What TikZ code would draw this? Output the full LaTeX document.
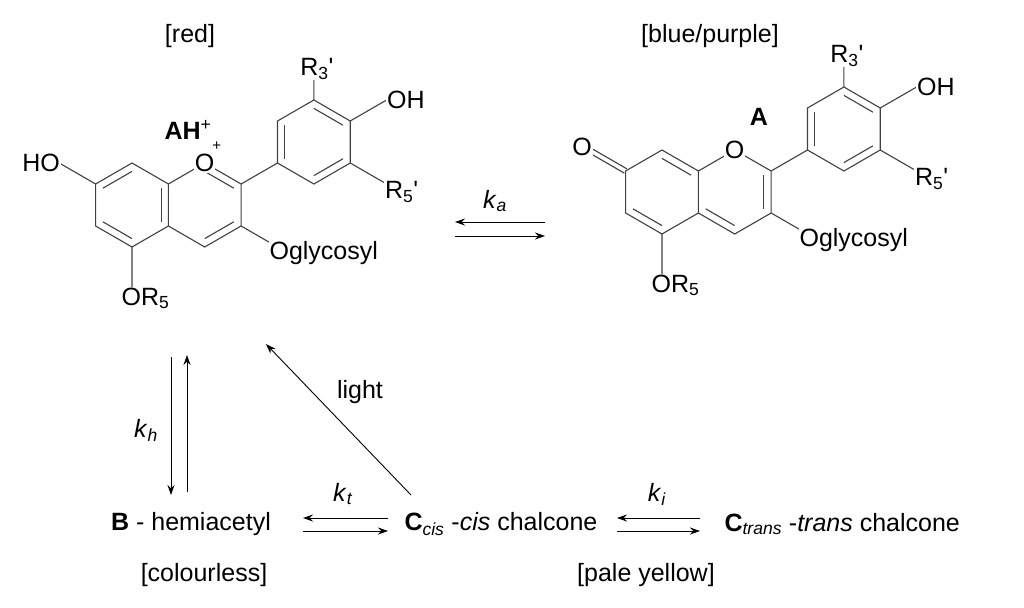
\documentclass[tikz,border=0pt]{standalone}
\usepackage{fontspec}
\setmainfont{Liberation Sans}
\usetikzlibrary{calc,arrows.meta}
\begin{document}
\begin{tikzpicture}[x=1pt,y=-1pt,line width=1.1pt,
  bond/.style={draw=black!75},
  lab/.style={inner sep=1pt,font=\fontsize{25}{29}\selectfont},
  lbl/.style={fill=white,inner sep=1pt,font=\fontsize{25}{29}\selectfont},
  arr/.style={line width=0.9pt,-{Stealth[length=10pt,width=7pt]}}]
\useasboundingbox (0,0) rectangle (1024,607);
\newcommand{\dbin}[3]{\draw[bond] ($(#1)!0.2!(#3)$) -- ($(#2)!0.2!(#3)$);}
\newcommand{\skel}[2]{%
 \begin{scope}[shift={(#1,#2)}]
 \coordinate (Lc) at (0,0); \coordinate (Rc) at (72.7,0); \coordinate (Pc) at (181.9,-63);
 \coordinate (Lt) at (0,-42); \coordinate (Lur) at (36.4,-21); \coordinate (Llr) at (36.4,21);
 \coordinate (Lb) at (0,42); \coordinate (Lll) at (-36.4,21); \coordinate (Lul) at (-36.4,-21);
 \coordinate (O1) at (72.7,-42); \coordinate (C2) at (109.1,-21); \coordinate (C3) at (109.1,21);
 \coordinate (C4) at (72.7,42);
 \coordinate (Pt) at (181.9,-105); \coordinate (Pur) at (218.2,-84); \coordinate (Plr) at (218.2,-42);
 \coordinate (Pb) at (181.9,-21); \coordinate (Pll) at (145.5,-42); \coordinate (Pul) at (145.5,-84);
 \coordinate (sR3) at (181.9,-126); \coordinate (sOH) at (254.6,-105); \coordinate (sR5) at (254.6,-21);
 \coordinate (sOg) at (142,40); \coordinate (sOR) at (0,86); \coordinate (sHO) at (-72.7,-42);
 \draw[bond] (Lt)--(Lur)--(Llr)--(Lb)--(Lll)--(Lul)--cycle;
 \draw[bond] (Lur)--(O1)--(C2)--(C3)--(C4)--(Llr);
 \draw[bond] (Pt)--(Pur)--(Plr)--(Pb)--(Pll)--(Pul)--cycle;
 \draw[bond] (C2)--(Pll) (Pt)--(sR3) (Pur)--(sOH) (Plr)--(sR5) (C3)--(sOg) (Lb)--(sOR);
 \dbin{Pul}{Pll}{Pc}\dbin{Pt}{Pur}{Pc}\dbin{Plr}{Pb}{Pc}
 \node[lbl,anchor=south] (nR3) at ($(sR3)+(3,2)$) {R\textsubscript{3}\textquotesingle};
 \node[lbl,anchor=west] (nOH) at ($(sOH)+(-1,0)$) {OH};
 \node[lbl,anchor=north west] (nR5) at ($(sR5)+(-3,-4)$) {R\textsubscript{5}\textquotesingle};
 \node[lbl,anchor=west] (nOg) at ($(sOg)+(-6,8)$) {Oglycosyl};
 \node[lbl,anchor=north west] (nOR) at ($(sOR)+(-12,-5)$) {OR\textsubscript{5}};
 \end{scope}}
% ---- AH+ ----
\skel{132}{205}
\draw[bond] (Lul)--(sHO);
\dbin{Lt}{Lul}{Lc}\dbin{Lll}{Lb}{Lc}\dbin{Lur}{Llr}{Lc}\dbin{O1}{C2}{Rc}\dbin{C3}{C4}{Rc}
\node[lbl,anchor=east] (nHO) at ($(sHO)+(2,0)$) {HO};
\node[lbl] (nO1) at (O1) {O};
\node[lab,font=\fontsize{15}{17}\selectfont] (plus1) at ($(O1)+(12,-17)$) {+};
\node[lab] (AH) at (188,130) {\textbf{AH}\textsuperscript{+}};
\node[lab] (red) at (190,36) {[red]};
% ---- A ----
\skel{662}{192}
\draw[bond] ($(Lul)!2.5pt!90:(sHO)$)--($(sHO)!2.5pt!-90:(Lul)$);
\draw[bond] ($(Lul)!2.5pt!-90:(sHO)$)--($(sHO)!2.5pt!90:(Lul)$);
\dbin{Lt}{Lur}{Lc}\dbin{Lll}{Lb}{Lc}\dbin{C2}{C3}{Rc}\dbin{C4}{Llr}{Rc}
\node[lbl,anchor=east] (nO7) at ($(sHO)+(4,-3)$) {O};
\node[lbl] (nO2) at (O1) {O};
\node[lab] (A) at (759,117) {\textbf{A}};
\node[lab] (blue) at (710,36) {[blue/purple]};
% ---- arrows ----
\coordinate (ka1) at (455,222); \coordinate (ka2) at (545,222);
\coordinate (ka3) at (455,236); \coordinate (ka4) at (545,236);
\draw[arr] (ka2)--(ka1); \draw[arr] (ka3)--(ka4);
\node[lab] (ka) at (495,201) {\textit{k}\textsubscript{\textit{a}}};
\coordinate (kh1) at (171,357); \coordinate (kh2) at (171,495);
\coordinate (kh3) at (187,492); \coordinate (kh4) at (187,355);
\draw[arr] (kh1)--(kh2); \draw[arr] (kh3)--(kh4);
\node[lab] (kh) at (146,430) {\textit{k}\textsubscript{\textit{h}}};
\node[lab] (B) at (191,524) {\textbf{B} - hemiacetyl};
\node[lab] (col) at (204,575) {[colourless]};
\node[lab,anchor=west] (Cc) at (403,524) {\textbf{C}\textsubscript{\textit{cis}} -\textit{cis} chalcone};
\node[lab,anchor=west] (Ct) at (723,524) {\textbf{C}\textsubscript{\textit{trans}} -\textit{trans} chalcone};
\node[lab] (pale) at (646,575) {[pale yellow]};
\coordinate (kt1) at (303,518); \coordinate (kt2) at (388,518);
\coordinate (kt3) at (303,531); \coordinate (kt4) at (388,531);
\draw[arr] (kt2)--(kt1); \draw[arr] (kt3)--(kt4);
\node[lab] (kt) at (343,494) {\textit{k}\textsubscript{\textit{t}}};
\coordinate (ki1) at (617,518); \coordinate (ki2) at (700,518);
\coordinate (ki3) at (617,531); \coordinate (ki4) at (700,531);
\draw[arr] (ki2)--(ki1); \draw[arr] (ki3)--(ki4);
\node[lab] (ki) at (657,494) {\textit{k}\textsubscript{\textit{i}}};
\coordinate (li1) at (411,495); \coordinate (li2) at (266,344);
\draw[arr] (li1)--(li2);
\node[lab] (light) at (360,392) {light};
\end{tikzpicture}
\end{document}
